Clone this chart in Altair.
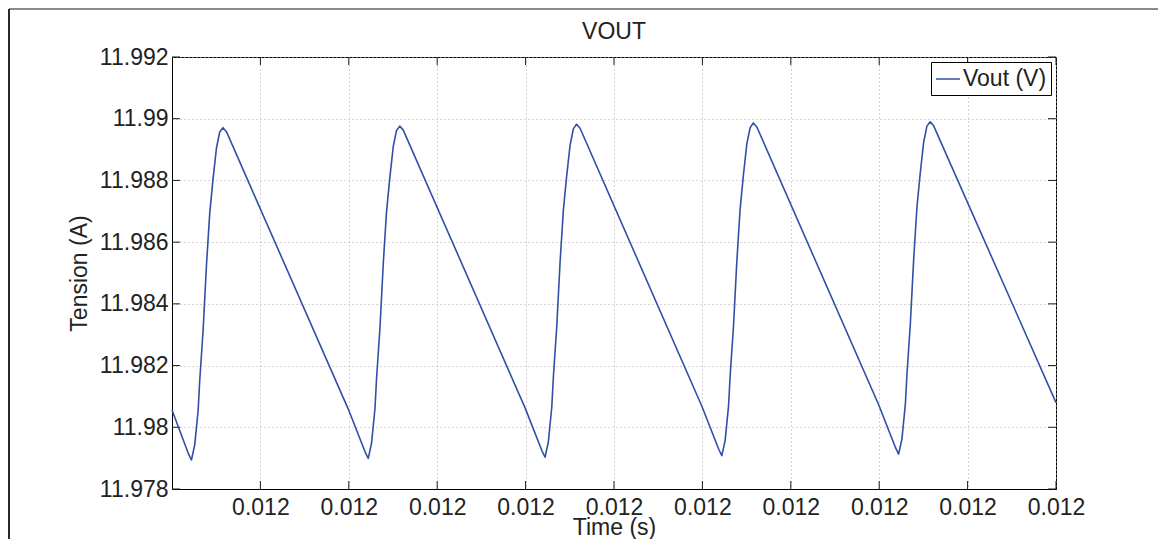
import altair as alt
import pandas as pd

# ---- data ----
SERIES = "Vout (V)"
# time offsets in microseconds after t = 0.012 s
TIME_US = [
    0.00, 1.86,
    2.20, 2.57, 2.96, 3.14, 3.52, 3.90, 4.27, 4.63, 5.03, 5.40, 5.76, 6.16,
    19.94, 21.86,
    22.20, 22.57, 22.96, 23.14, 23.52, 23.90, 24.27, 24.63, 25.03, 25.40, 25.76, 26.16,
    39.94, 41.86,
    42.20, 42.57, 42.96, 43.14, 43.52, 43.90, 44.27, 44.63, 45.03, 45.40, 45.76, 46.16,
    59.94, 61.86,
    62.20, 62.57, 62.96, 63.14, 63.52, 63.90, 64.27, 64.63, 65.03, 65.40, 65.76, 66.16,
    79.94, 81.86,
    82.20, 82.57, 82.96, 83.14, 83.52, 83.90, 84.27, 84.63, 85.03, 85.40, 85.76, 86.16,
    100.00,
]
VOUT = [
    11.98056, 11.97914,
    11.97894, 11.97943, 11.98056, 11.98153, 11.98315, 11.98526, 11.98694, 11.98801, 11.98905, 11.98957, 11.98971, 11.98958,
    11.98059, 11.97919,
    11.97899, 11.97948, 11.98061, 11.98158, 11.98320, 11.98531, 11.98699, 11.98806, 11.98910, 11.98962, 11.98976, 11.98963,
    11.98063, 11.97923,
    11.97903, 11.97952, 11.98065, 11.98162, 11.98324, 11.98535, 11.98703, 11.98810, 11.98914, 11.98967, 11.98982, 11.98969,
    11.98068, 11.97928,
    11.97908, 11.97957, 11.98070, 11.98167, 11.98329, 11.98540, 11.98708, 11.98815, 11.98919, 11.98971, 11.98986, 11.98973,
    11.98073, 11.97933,
    11.97913, 11.97962, 11.98075, 11.98172, 11.98334, 11.98545, 11.98713, 11.98820, 11.98924, 11.98976, 11.98990, 11.98977,
    11.98080,
]
T0 = 0.012
X_DOMAIN = [0.0120, 0.0121]
Y_DOMAIN = [11.978, 11.992]
X_TICKS = [0.01201, 0.01202, 0.01203, 0.01204, 0.01205,
           0.01206, 0.01207, 0.01208, 0.01209, 0.0121]
Y_TICKS = [11.978, 11.980, 11.982, 11.984, 11.986, 11.988, 11.990, 11.992]

TITLE = "VOUT"
X_TITLE = "Time (s)"
Y_TITLE = "Tension (A)"

# ---- layout / style ----
W, H = 884, 432
FONT = "Liberation Sans"
TXT = "#222222"
LINE_COLOR = "#3050a8"
FS = 23
TICK_LEN = 8

df = pd.DataFrame({
    "t": [T0 + u * 1e-6 for u in TIME_US],
    "v": VOUT,
    "series": [SERIES] * len(VOUT),
})
xt = pd.DataFrame({"t": X_TICKS})
yt = pd.DataFrame({"v": Y_TICKS})
one = pd.DataFrame({"a": [0]})

x_enc = alt.X(
    "t:Q",
    scale=alt.Scale(domain=X_DOMAIN, nice=False, zero=False),
    axis=alt.Axis(values=X_TICKS, format=".3f", title=X_TITLE,
                  labelPadding=7, labelFlush=False, labelOverlap=False,
                  titleY=45, titleBaseline="alphabetic"),
)
y_enc = alt.Y(
    "v:Q",
    scale=alt.Scale(domain=Y_DOMAIN, nice=False, zero=False),
    axis=alt.Axis(values=Y_TICKS, format=".3~f", title=Y_TITLE,
                  labelPadding=4, labelFlush=False, labelOverlap=False,
                  titleX=-86, titleY=H / 2, titleBaseline="alphabetic"),
)

line = alt.Chart(df).mark_line(strokeWidth=1.6, interpolate="linear",
                               strokeJoin="round").encode(
    x=x_enc,
    y=y_enc,
    color=alt.Color(
        "series:N",
        scale=alt.Scale(range=[LINE_COLOR]),
        legend=alt.Legend(title=None, orient="top-right", offset=5, padding=4,
                          strokeColor="black", fillColor="white",
                          symbolType="stroke", symbolSize=576,
                          symbolStrokeWidth=1.5, labelOffset=2,
                          labelFontSize=FS, labelFont=FONT, labelColor=TXT),
    ),
)

tick_col = "#1a1a1a"
xt_bot = alt.Chart(xt).mark_rule(color=tick_col, strokeWidth=1).encode(
    x=x_enc, y=alt.value(H), y2=alt.value(H - TICK_LEN))
xt_top = alt.Chart(xt).mark_rule(color=tick_col, strokeWidth=1).encode(
    x=x_enc, y=alt.value(0), y2=alt.value(TICK_LEN))
yt_left = alt.Chart(yt).mark_rule(color=tick_col, strokeWidth=1).encode(
    y=y_enc, x=alt.value(0), x2=alt.value(TICK_LEN))
yt_right = alt.Chart(yt).mark_rule(color=tick_col, strokeWidth=1).encode(
    y=y_enc, x=alt.value(W - TICK_LEN), x2=alt.value(W))

title_txt = alt.Chart(one).mark_text(
    text=TITLE, font=FONT, fontSize=FS, color=TXT,
    align="center", baseline="alphabetic",
).encode(x=alt.value(W / 2), y=alt.value(-18))

frame_top = alt.Chart(one).mark_rule(color="#8a8a8a", strokeWidth=2).encode(
    x=alt.value(-163), x2=alt.value(W + 102), y=alt.value(-48))
frame_left = alt.Chart(one).mark_rule(color="#2a2a2a", strokeWidth=2).encode(
    x=alt.value(-163), y=alt.value(-48), y2=alt.value(H + 52))

chart = alt.layer(
    xt_bot, xt_top, yt_left, yt_right, line, title_txt, frame_top, frame_left
).properties(
    width=W,
    height=H,
    autosize=alt.AutoSizeParams(type="none"),
    padding={"left": 164, "top": 49, "right": 102, "bottom": 50},
).configure_view(
    stroke="black", strokeWidth=1
).configure_axis(
    grid=True, gridColor="#a8a8a8", gridDash=[1, 3], gridWidth=1,
    domainColor="black", domainWidth=1, ticks=False,
    labelFont=FONT, labelFontSize=FS, labelColor=TXT,
    titleFont=FONT, titleFontSize=FS, titleFontWeight="normal", titleColor=TXT,
)

chart.save("out.html", embed_options={"renderer": "svg", "actions": False})
